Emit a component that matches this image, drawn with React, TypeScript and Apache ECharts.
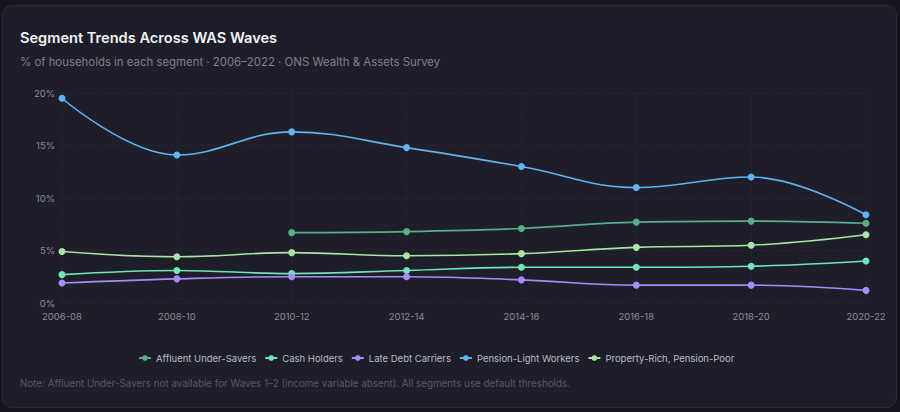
import React, { useEffect, useRef } from "react";
import * as echarts from "echarts";

const waves = ["2006-08", "2008-10", "2010-12", "2012-14", "2014-16", "2016-18", "2018-20", "2020-22"];
const affluentUnderSavers = [null, null, 6.7, 6.8, 7.1, 7.7, 7.8, 7.6];
const cashHolders = [2.7, 3.1, 2.8, 3.1, 3.4, 3.4, 3.5, 4.0];
const lateDebtCarriers = [1.9, 2.3, 2.5, 2.5, 2.2, 1.7, 1.7, 1.2];
const pensionLightWorkers = [19.5, 14.1, 16.3, 14.8, 13.0, 11.0, 12.0, 8.4];
const propertyRichPensionPoor = [4.9, 4.4, 4.8, 4.5, 4.7, 5.3, 5.5, 6.5];
const yTicks = [0, 5, 10, 15, 20];

const seriesDefs = [
  { name: "Affluent Under-Savers", data: affluentUnderSavers, color: "#5aae86" },
  { name: "Cash Holders", data: cashHolders, color: "#6ee7b7" },
  { name: "Late Debt Carriers", data: lateDebtCarriers, color: "#a78bfa" },
  { name: "Pension-Light Workers", data: pensionLightWorkers, color: "#60b4f0" },
  { name: "Property-Rich, Pension-Poor", data: propertyRichPensionPoor, color: "#a9e6a4" },
];

export default function App() {
  const ref = useRef<HTMLDivElement>(null);
  useEffect(() => {
    if (!ref.current) return;
    const chart = echarts.init(ref.current, null, { renderer: "svg" });
    const font = "Inter, 'Noto Sans', sans-serif";
    chart.setOption({
      animation: false,
      backgroundColor: "transparent",
      textStyle: { fontFamily: font },
      title: {
        text: "Segment Trends Across WAS Waves",
        subtext: "% of households in each segment · 2006–2022 · ONS Wealth & Assets Survey",
        left: 20,
        top: 30,
        padding: 0,
        itemGap: 11,
        textStyle: { color: "#f2f2f6", fontSize: 14.6, fontWeight: 600, fontFamily: font },
        subtextStyle: { color: "#7d7f8e", fontSize: 11.4, fontFamily: font },
      },
      grid: { left: 62, right: 34, top: 93, bottom: 109, containLabel: false },
      xAxis: {
        type: "category",
        data: waves,
        boundaryGap: false,
        axisLine: { show: false },
        axisTick: { show: false },
        axisLabel: { color: "#8a8c9a", fontSize: 9.5, margin: 8, fontFamily: font },
        splitLine: { show: true, lineStyle: { color: "rgba(255,255,255,0.03)", type: "dashed", width: 1 } },
      },
      yAxis: {
        type: "value",
        min: yTicks[0],
        max: yTicks[yTicks.length - 1],
        interval: 5,
        axisLine: { show: false },
        axisTick: { show: false },
        axisLabel: {
          color: "#8a8c9a",
          fontSize: 9.5,
          margin: 7,
          fontFamily: font,
          formatter: (v: number) => `${v}%`,
        },
        splitLine: { show: true, lineStyle: { color: "rgba(255,255,255,0.035)", type: "dashed", width: 1 } },
      },
      legend: {
        top: 348,
        left: 133,
        itemWidth: 12,
        itemHeight: 7,
        itemGap: 8,
        textStyle: { color: "#b9bbc8", fontSize: 9.5, fontFamily: font },
        data: seriesDefs.map((s) => s.name),
      },
      graphic: [
        {
          type: "text",
          left: 20,
          top: 378,
          style: {
            text: "Note: Affluent Under-Savers not available for Waves 1–2 (income variable absent). All segments use default thresholds.",
            fill: "#555867",
            fontSize: 9.8,
            fontFamily: font,
          },
        },
      ],
      series: seriesDefs.map((s) => ({
        name: s.name,
        type: "line",
        data: s.data.map((v) => (v === null ? "-" : v)),
        smooth: 0.4,
        connectNulls: false,
        symbol: "circle",
        symbolSize: 7,
        showSymbol: true,
        lineStyle: { color: s.color, width: 1.6 },
        itemStyle: { color: s.color },
      })),
    });
    return () => chart.dispose();
  }, []);

  return (
    <div style={{ position: "fixed", left: 0, top: 0, width: 900, height: 412, background: "#15151d", overflow: "hidden" }}>
      <div
        style={{
          position: "absolute",
          left: 2,
          top: 5,
          width: 893,
          height: 401,
          background: "#1e1e2a",
          border: "1px solid #2b2b39",
          borderRadius: 10,
        }}
      />
      <div ref={ref} style={{ position: "absolute", left: 0, top: 0, width: 900, height: 412 }} />
    </div>
  );
}
